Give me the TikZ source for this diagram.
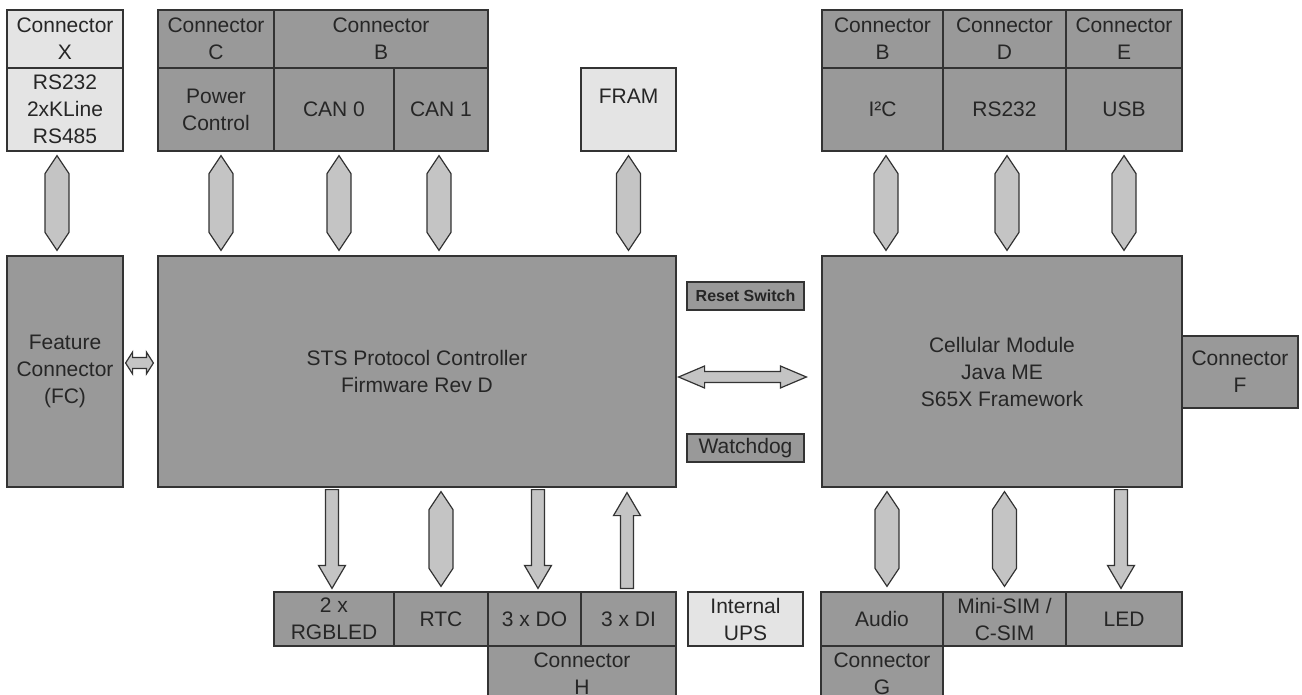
\documentclass[tikz,border=0pt]{standalone}
\usepackage{fontspec}
\setmainfont{Liberation Sans}
\usetikzlibrary{calc}

\definecolor{boxgray}{RGB}{153,153,153}
\definecolor{boxlight}{RGB}{228,228,228}
\definecolor{arrowgray}{RGB}{196,196,196}
\definecolor{edgegray}{RGB}{51,51,51}

\tikzset{
  blk/.style={draw=edgegray, fill=boxgray, line width=0.6pt, inner sep=0pt,
    align=center, text=black!85, font=\fontsize{10.5}{13.5}\selectfont},
  lite/.style={blk, fill=boxlight},
  fatarrow/.style={draw=edgegray, fill=arrowgray, line width=0.6pt, line join=miter},
}

% vertical two-way arrow: x reference, upper anchor, lower anchor
\newcommand{\vbi}[3]{%
  \draw[fatarrow] let \p1=#1, \p2=#2, \p3=#3 in
    (\x1,{\y2-2pt}) -- ({\x1+6pt},{\y2-11pt}) -- ({\x1+6pt},{\y3+11.5pt})
    -- (\x1,{\y3+2.5pt}) -- ({\x1-6pt},{\y3+11.5pt}) -- ({\x1-6pt},{\y2-11pt}) -- cycle;}
% vertical one-way arrow pointing down
\newcommand{\vdown}[3]{%
  \draw[fatarrow] let \p1=#1, \p2=#2, \p3=#3 in
    ({\x1-3.25pt},{\y2-1pt}) -- ({\x1+3.25pt},{\y2-1pt}) -- ({\x1+3.25pt},{\y3+13pt})
    -- ({\x1+6.75pt},{\y3+13pt}) -- (\x1,{\y3+1.5pt}) -- ({\x1-6.75pt},{\y3+13pt})
    -- ({\x1-3.25pt},{\y3+13pt}) -- cycle;}
% vertical one-way arrow pointing up
\newcommand{\vup}[3]{%
  \draw[fatarrow] let \p1=#1, \p2=#2, \p3=#3 in
    ({\x1-3.25pt},{\y3+1.5pt}) -- ({\x1+3.25pt},{\y3+1.5pt}) -- ({\x1+3.25pt},{\y2-14pt})
    -- ({\x1+6.75pt},{\y2-14pt}) -- (\x1,{\y2-2.5pt}) -- ({\x1-6.75pt},{\y2-14pt})
    -- ({\x1-3.25pt},{\y2-14pt}) -- cycle;}
% horizontal two-way arrow: head length, left tip, right tip
\newcommand{\hbi}[3][13pt]{%
  \draw[fatarrow] let \p1=#2, \p2=#3 in
    (\x1,\y1) -- ({\x1+#1},{\y1+5.5pt}) -- ({\x1+#1},{\y1+2.75pt})
    -- ({\x2-#1},{\y1+2.75pt}) -- ({\x2-#1},{\y1+5.5pt}) -- (\x2,\y1)
    -- ({\x2-#1},{\y1-5.5pt}) -- ({\x2-#1},{\y1-2.75pt})
    -- ({\x1+#1},{\y1-2.75pt}) -- ({\x1+#1},{\y1-5.5pt}) -- cycle;}

\begin{document}
\begin{tikzpicture}[x=0.5pt, y=-0.5pt]
  \useasboundingbox (0,0) rectangle (1302,695);
  \clip (0,0) rectangle (1302,695);

  % top row
  \node[lite, minimum width=58pt, minimum height=29pt] (xhead) at (65,39) {Connector\\X};
  \node[lite, minimum width=58pt, minimum height=41.5pt] (xbody) at (65,109.5) {RS232\\2xKLine\\RS485};
  \node[blk, minimum width=58pt, minimum height=29pt] (chead) at (216,39) {Connector\\C};
  \node[blk, minimum width=107pt, minimum height=29pt] (bhead) at (381,39) {Connector\\B};
  \node[blk, minimum width=58pt, minimum height=41.5pt] (power) at (216,109.5) {Power\\Control};
  \node[blk, minimum width=60pt, minimum height=41.5pt] (cana) at (334,109.5) {CAN 0};
  \node[blk, minimum width=47pt, minimum height=41.5pt] (canb) at (441,109.5) {CAN 1};
  \node[lite, minimum width=47.5pt, minimum height=41.5pt] (fram) at (628.5,109.5) {FRAM\\\phantom{X}};
  \node[blk, minimum width=60.5pt, minimum height=29pt] (rhb) at (882.5,39) {Connector\\B};
  \node[blk, minimum width=61.5pt, minimum height=29pt] (rhd) at (1004.5,39) {Connector\\D};
  \node[blk, minimum width=58pt, minimum height=29pt] (rhe) at (1124,39) {Connector\\E};
  \node[blk, minimum width=60.5pt, minimum height=41.5pt] (itc) at (882.5,109.5) {I²C};
  \node[blk, minimum width=61.5pt, minimum height=41.5pt] (rsd) at (1004.5,109.5) {RS232};
  \node[blk, minimum width=58pt, minimum height=41.5pt] (usb) at (1124,109.5) {USB};

  % middle row
  \node[blk, minimum width=58pt, minimum height=115.5pt] (fc) at (65,371.5) {Feature\\Connector\\(FC)};
  \node[blk, minimum width=259pt, minimum height=115.5pt] (sts) at (417,371.5) {STS Protocol Controller\\Firmware Rev D};
  \node[blk, minimum width=58.5pt, minimum height=14pt, font=\bfseries\fontsize{8}{9.6}\selectfont] (reset) at (745.5,296) {Reset Switch};
  \node[blk, minimum width=58.5pt, minimum height=14pt] (wdog) at (745.5,448) {Watchdog};
  \node[blk, minimum width=180pt, minimum height=115.5pt] (cell) at (1002,371.5) {Cellular Module\\Java ME\\S65X Framework};
  \node[blk, minimum width=58pt, minimum height=36pt] (connf) at (1240,372) {Connector\\F};

  % bottom row
  \node[blk, minimum width=60pt, minimum height=27pt] (rgb) at (334,619) {2 x\\RGBLED};
  \node[blk, minimum width=47pt, minimum height=27pt] (rtc) at (441,619) {RTC};
  \node[blk, minimum width=46.5pt, minimum height=27pt] (dout) at (534.5,619) {3 x DO};
  \node[blk, minimum width=47.5pt, minimum height=27pt] (din) at (628.5,619) {3 x DI};
  \node[blk, minimum width=94pt, minimum height=27.5pt] (connh) at (582,673.5) {Connector\\H};
  \node[lite, minimum width=57.5pt, minimum height=27pt] (ups) at (745.5,619) {Internal\\UPS};
  \node[blk, minimum width=61pt, minimum height=27pt] (audio) at (882,619) {Audio};
  \node[blk, minimum width=61.5pt, minimum height=27pt] (sim) at (1004.5,619) {Mini-SIM /\\C-SIM};
  \node[blk, minimum width=58pt, minimum height=27pt] (led) at (1124,619) {LED};
  \node[blk, minimum width=61pt, minimum height=27.5pt] (conng) at (882,673.5) {Connector\\G};

  % arrows, top
  \vbi{($(xbody)+(-8,0)$)}{(xbody.south)}{(fc.north)}
  \vbi{($(power)+(5,0)$)}{(power.south)}{(sts.north)}
  \vbi{($(cana)+(5,0)$)}{(cana.south)}{(sts.north)}
  \vbi{($(canb)+(-2,0)$)}{(canb.south)}{(sts.north)}
  \vbi{(fram)}{(fram.south)}{(sts.north)}
  \vbi{($(itc)+(3.5,0)$)}{(itc.south)}{(cell.north)}
  \vbi{($(rsd)+(2.5,0)$)}{(rsd.south)}{(cell.north)}
  \vbi{(usb)}{(usb.south)}{(cell.north)}

  % arrows, middle
  \hbi[3.5pt]{($(fc.east)+(2,-8.5)$)}{($(sts.west)+(-4,0)$)}
  \hbi[13pt]{($(sts.east)+(2,5.5)$)}{($(cell.west)+(-15,0)$)}

  % arrows, bottom
  \vdown{($(rgb)+(-2,0)$)}{(sts.south)}{(rgb.north)}
  \vbi{(rtc)}{(sts.south)}{(rtc.north)}
  \vdown{($(dout)+(3.5,0)$)}{(sts.south)}{(dout.north)}
  \vup{($(din)+(-1.5,0)$)}{(sts.south)}{(din.north)}
  \vbi{($(audio)+(5,0)$)}{(cell.south)}{(audio.north)}
  \vbi{(sim)}{(cell.south)}{(sim.north)}
  \vdown{($(led)+(-3,0)$)}{(cell.south)}{(led.north)}
\end{tikzpicture}
\end{document}
